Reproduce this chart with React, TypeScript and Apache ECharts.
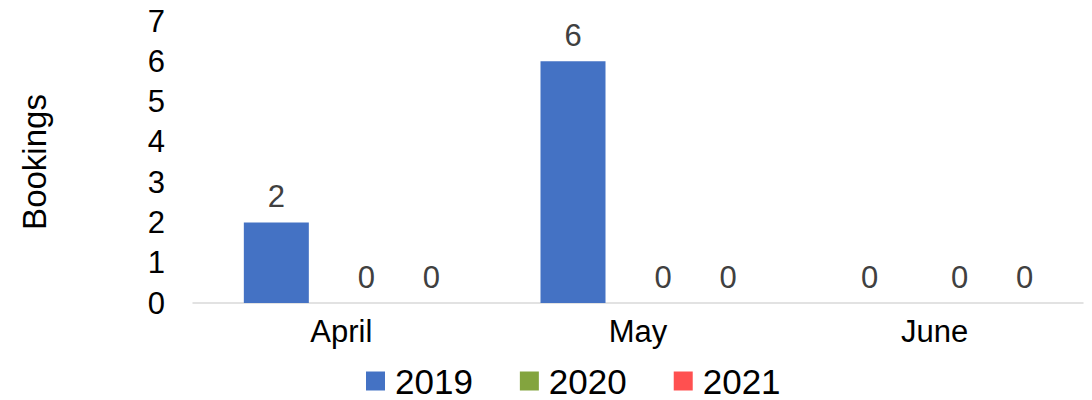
import React, { useEffect, useRef } from "react";
import * as echarts from "echarts";

const categories = ["April", "May", "June"];
const seriesNames = ["2019", "2020", "2021"];
const values2019 = [2, 6, 0];
const values2020 = [0, 0, 0];
const values2021 = [0, 0, 0];
const colors = ["#4472C4", "#83A43E", "#FF5050"];
const yTicks = [0, 7, 1];

export default function App() {
  const ref = useRef<HTMLDivElement>(null);
  useEffect(() => {
    document.body.style.margin = "0";
    const chart = echarts.init(ref.current!, null, { renderer: "svg" });
    const font = "Arial, 'Liberation Sans', sans-serif";
    const fs = 31;
    const data = [values2019, values2020, values2021];
    chart.setOption({
      animation: false,
      textStyle: { fontFamily: font },
      grid: { left: 193, right: 9, top: 21, bottom: 97, containLabel: false },
      legend: {
        top: 363,
        left: 366,
        padding: [0, 0, 0, 0],
        itemWidth: 19,
        itemHeight: 19,
        itemGap: 47,
        icon: "rect",
        textStyle: {
          fontSize: 35,
          lineHeight: 36,
          color: "#000",
          fontFamily: font,
          padding: [0, 0, 0, 5],
        },
        data: seriesNames,
      },
      xAxis: {
        type: "category",
        data: categories,
        axisLine: { lineStyle: { color: "#D9D9D9", width: 1.5 } },
        axisTick: { show: false },
        axisLabel: { fontSize: fs, color: "#000", margin: 13, fontFamily: font },
      },
      yAxis: {
        type: "value",
        min: yTicks[0],
        max: yTicks[1],
        interval: yTicks[2],
        name: "Bookings",
        nameLocation: "middle",
        nameGap: 142,
        nameTextStyle: { fontSize: 33, color: "#000", fontFamily: font },
        axisLine: { show: false },
        axisTick: { show: false },
        splitLine: { show: false },
        axisLabel: { fontSize: fs, color: "#000", margin: 28, fontFamily: font },
      },
      series: seriesNames.map((name, i) => ({
        name,
        type: "bar",
        data: data[i],
        barWidth: 65,
        barGap: "0%",
        itemStyle: { color: colors[i] },
        label: {
          show: true,
          position: "top",
          distance: 10,
          fontSize: fs,
          color: "#404040",
          fontFamily: font,
          offset: i === 0 ? [0, 0] : [25, 0],
        },
      })),
    });
    return () => chart.dispose();
  }, []);
  return <div ref={ref} style={{ width: 1092, height: 400 }} />;
}
